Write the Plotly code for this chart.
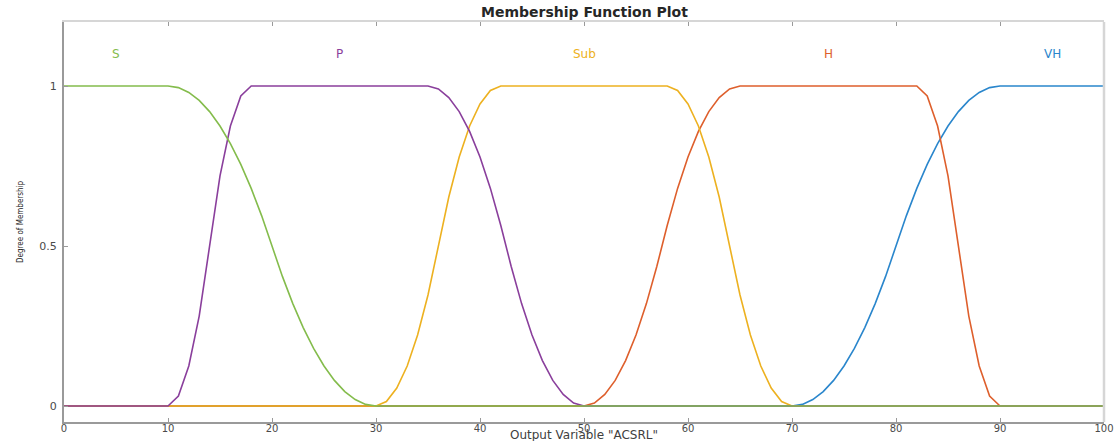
import plotly.graph_objects as go

# ---- data ----
mf_names = ["S", "P", "Sub", "H", "VH"]
mf_colors = ["#84BC4C", "#8A3F9C", "#EDB120", "#DE5F2C", "#2A86CC"]
label_x = [5, 26.5, 50, 73.5, 95]
label_y = [1.1, 1.1, 1.1, 1.1, 1.1]

s_x = [0, 10, 11, 12, 13, 14, 15, 16, 17, 18, 19, 20, 21, 22, 23, 24, 25, 26, 27, 28, 29, 30, 100]
s_y = [1, 1, 0.995, 0.98, 0.955, 0.92, 0.875, 0.82, 0.755, 0.68, 0.595, 0.5, 0.405, 0.32, 0.245,
       0.18, 0.125, 0.08, 0.045, 0.02, 0.005, 0, 0]

p_x = [0, 10, 11, 12, 13, 14, 15, 16, 17, 18,
       35, 36, 37, 38, 39, 40, 41, 42, 43, 44, 45, 46, 47, 48, 49, 50, 100]
p_y = [0, 0, 0.031, 0.125, 0.281, 0.5, 0.719, 0.875, 0.969, 1,
       1, 0.991, 0.964, 0.92, 0.858, 0.778, 0.68, 0.564, 0.436, 0.32, 0.222, 0.142, 0.08, 0.036,
       0.009, 0, 0]

sub_x = [0, 30, 31, 32, 33, 34, 35, 36, 37, 38, 39, 40, 41, 42,
         58, 59, 60, 61, 62, 63, 64, 65, 66, 67, 68, 69, 70, 100]
sub_y = [0, 0, 0.014, 0.056, 0.125, 0.222, 0.347, 0.5, 0.653, 0.778, 0.875, 0.944, 0.986, 1,
         1, 0.986, 0.944, 0.875, 0.778, 0.653, 0.5, 0.347, 0.222, 0.125, 0.056, 0.014, 0, 0]

h_x = [0, 50, 51, 52, 53, 54, 55, 56, 57, 58, 59, 60, 61, 62, 63, 64, 65,
       82, 83, 84, 85, 86, 87, 88, 89, 90, 100]
h_y = [0, 0, 0.009, 0.036, 0.08, 0.142, 0.222, 0.32, 0.436, 0.564, 0.68, 0.778, 0.858, 0.92,
       0.964, 0.991, 1,
       1, 0.969, 0.875, 0.719, 0.5, 0.281, 0.125, 0.031, 0, 0]

vh_x = [0, 70, 71, 72, 73, 74, 75, 76, 77, 78, 79, 80, 81, 82, 83, 84, 85, 86, 87, 88, 89, 90, 100]
vh_y = [0, 0, 0.005, 0.02, 0.045, 0.08, 0.125, 0.18, 0.245, 0.32, 0.405, 0.5, 0.595, 0.68, 0.755,
        0.82, 0.875, 0.92, 0.955, 0.98, 0.995, 1, 1]

x_ticks = [0, 10, 20, 30, 40, 50, 60, 70, 80, 90, 100]
y_ticks = [0, 0.5, 1]
y_ticktext = ["0", "0.5", "1"]

title_text = "Membership Function Plot"
x_title = 'Output Variable "ACSRL"'
y_title = "Degree of Membership"

series_x = [s_x, p_x, sub_x, h_x, vh_x]
series_y = [s_y, p_y, sub_y, h_y, vh_y]

fig = go.Figure()
# draw last MF first so that S ends up on top (as in the reference)
for i in reversed(range(len(mf_names))):
    fig.add_trace(go.Scatter(x=series_x[i], y=series_y[i], mode="lines",
                             name=mf_names[i],
                             line=dict(color=mf_colors[i], width=1.6),
                             hoverinfo="skip", showlegend=False))

for i, name in enumerate(mf_names):
    fig.add_annotation(x=label_x[i], y=label_y[i], xref="x", yref="y", text=name,
                       showarrow=False, font=dict(family="DejaVu Sans", size=12, color=mf_colors[i]))

axis_color = "#9a9a9a"
light_color = "#d6d6d6"
fig.update_layout(
    xaxis=dict(range=[0, 100], tickvals=x_ticks, ticks="inside", ticklen=4, tickcolor=axis_color,
               showline=True, linecolor=axis_color, linewidth=2, mirror=False, automargin=False,
               showgrid=False, zeroline=False, ticklabelstandoff=-4,
               tickfont=dict(family="DejaVu Sans", size=10, color="#4a4a4a")),
    xaxis2=dict(range=[0, 100], tickvals=x_ticks, ticks="inside", ticklen=4, tickcolor=axis_color,
                showline=True, linecolor=light_color, linewidth=2, overlaying="x", side="top",
                anchor="y", showticklabels=False, showgrid=False, zeroline=False, automargin=False),
    yaxis=dict(range=[-0.05, 1.2], tickvals=y_ticks, ticktext=y_ticktext, ticks="inside", ticklen=4,
               tickcolor=axis_color, showline=True, linecolor=axis_color, linewidth=2, mirror=False,
               showgrid=False, zeroline=False, ticklabelstandoff=3, automargin=False,
               tickfont=dict(family="DejaVu Sans", size=11, color="#4a4a4a")),
)
fig.add_trace(go.Scatter(x=[None], y=[None], xaxis="x2", yaxis="y", mode="lines",
                         showlegend=False, hoverinfo="skip"))
fig.add_shape(type="line", xref="paper", yref="paper", x0=1, x1=1, y0=0, y1=1,
              line=dict(color=light_color, width=2.5))

fig.add_annotation(x=0.5, y=1, xref="paper", yref="paper", yanchor="bottom", yshift=0,
                   text="<b>" + title_text + "</b>", showarrow=False,
                   font=dict(family="DejaVu Sans", size=14, color="#262626"))
fig.add_annotation(x=0.5, y=0, xref="paper", yref="paper", yanchor="top", yshift=-4,
                   text=x_title, showarrow=False,
                   font=dict(family="DejaVu Sans", size=12, color="#404040"))
fig.add_annotation(x=-0.0423, y=0.5, xref="paper", yref="paper", xanchor="center", yanchor="middle",
                   textangle=-90, text=y_title, showarrow=False,
                   font=dict(family="Liberation Sans Narrow, DejaVu Sans Condensed, sans-serif",
                             size=8, color="#262626"))

fig.update_layout(width=1120, height=441, margin=dict(l=64, r=16, t=22, b=19),
                  plot_bgcolor="white", paper_bgcolor="white", showlegend=False)

# remove the default page margin so the figure fills the window exactly
fig.write_html("out.html", config={"displayModeBar": False},
               post_script="document.body.style.margin='0';")
